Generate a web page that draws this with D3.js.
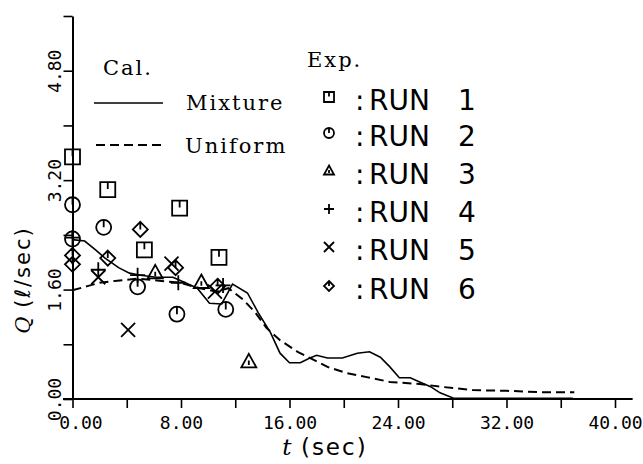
<!DOCTYPE html>
<html>
<head>
<meta charset="utf-8">
<script src="https://cdn.jsdelivr.net/npm/d3@7"></script>
<style>
  body { margin: 0; background: #fff; }
  svg { display: block; }
</style>
</head>
<body>
<div id="graph-container"></div>
<script>
// calculated curves
const tMixture = [0, 0.9, 1.7, 2.4, 3.4, 4.2, 5.0, 6.2, 7.4, 8.2, 9.2, 10.1, 11.0, 11.8, 12.9, 13.7, 14.6, 15.3, 16.0, 16.8, 17.5, 18.0, 18.8, 19.9, 21.0, 21.9, 22.7, 23.4, 24.1, 24.9, 25.6, 26.4, 27.1, 28.1, 36.9];
const qMixture = [2.33, 2.31, 2.18, 2.06, 1.92, 1.84, 1.81, 1.78, 1.78, 1.71, 1.62, 1.40, 1.39, 1.68, 1.55, 1.26, 0.97, 0.67, 0.53, 0.53, 0.60, 0.64, 0.60, 0.60, 0.67, 0.69, 0.61, 0.47, 0.31, 0.31, 0.25, 0.18, 0.09, 0.01, 0.01];

const tUniform = [0, 1.1, 2.0, 3.3, 4.8, 6.4, 7.9, 9.4, 10.6, 11.5, 12.6, 13.5, 14.3, 15.3, 16.6, 17.5, 18.8, 20.2, 21.7, 23.4, 25.6, 27.1, 29.5, 32.0, 34.5, 37.0];
const qUniform = [1.59, 1.65, 1.70, 1.73, 1.76, 1.73, 1.70, 1.62, 1.57, 1.62, 1.45, 1.26, 1.04, 0.86, 0.69, 0.60, 0.47, 0.38, 0.32, 0.25, 0.22, 0.18, 0.13, 0.12, 0.10, 0.10];

// experiments
const tRun1 = [0, 2.6, 5.3, 7.9, 10.8];
const qRun1 = [3.54, 3.06, 2.18, 2.79, 2.07];
const tRun2 = [0, 0, 2.3, 4.8, 7.7, 11.3];
const qRun2 = [2.84, 2.34, 2.51, 1.64, 1.24, 1.31];
const tRun3 = [6.1, 9.5, 13.0];
const qRun3 = [1.84, 1.70, 0.54];
const tRun4 = [0, 1.9, 4.8, 7.8, 11.1];
const qRun4 = [2.36, 1.89, 1.81, 1.70, 1.66];
const tRun5 = [1.9, 4.1, 7.3, 10.5];
const qRun5 = [1.78, 1.01, 1.98, 1.57];
const tRun6 = [0, 0, 2.6, 5.0, 7.6, 10.7];
const qRun6 = [2.10, 1.97, 2.06, 2.48, 1.92, 1.65];

const runNames = ["1", "2", "3", "4", "5", "6"];
const runShapes = ["square", "circle", "triangle", "plus", "cross", "diamond"];

const xTicks = [0, 4, 8, 12, 16, 20, 24, 28, 32, 36, 40];
const yTicks = [0, 0.8, 1.6, 2.4, 3.2, 4.0, 4.8, 5.6];

const svgWidth = 643;
const svgHeight = 464;

const svg = d3
  .select("#graph-container")
  .append("svg")
  .attr("width", svgWidth)
  .attr("height", svgHeight);

const xScale = d3.scaleLinear().domain([0, 40]).range([72.5, 615]);
const yScale = d3.scaleLinear().domain([0, 5.6]).range([399, 16]);

// plotter style symbol, s = half size
const markerPath = (shape, s) => {
  const p = d3.path();
  if (shape === "square") {
    p.rect(-s, -s, 2 * s, 2 * s);
    p.moveTo(0, -s);
    p.lineTo(0, -s * 0.1);
  } else if (shape === "circle") {
    p.moveTo(s, 0);
    p.arc(0, 0, s, 0, Math.PI * 2);
    p.moveTo(0, -s);
    p.lineTo(0, 0);
  } else if (shape === "triangle") {
    p.moveTo(0, -s * 1.1);
    p.lineTo(s, s * 0.7);
    p.lineTo(-s, s * 0.7);
    p.closePath();
    p.moveTo(0, -s * 0.2);
    p.lineTo(0, s * 0.4);
  } else if (shape === "plus") {
    p.moveTo(-s, 0);
    p.lineTo(s, 0);
    p.moveTo(0, -s);
    p.lineTo(0, s);
  } else if (shape === "cross") {
    p.moveTo(-s, -s);
    p.lineTo(s, s);
    p.moveTo(s, -s);
    p.lineTo(-s, s);
  } else if (shape === "diamond") {
    p.moveTo(0, -s);
    p.lineTo(s, 0);
    p.lineTo(0, s);
    p.lineTo(-s, 0);
    p.closePath();
    p.moveTo(0, -s);
    p.lineTo(0, 0);
  }
  return p.toString();
};

// axes
const xAxis = svg
  .append("g")
  .attr("transform", "translate(0," + yScale(0) + ")")
  .call(
    d3
      .axisBottom(xScale)
      .tickValues(xTicks)
      .tickSize(9)
      .tickPadding(8)
      .tickFormat((d) => (d % 8 === 0 ? d.toFixed(2) : ""))
  );
xAxis.select(".domain").remove();
xAxis
  .selectAll("text")
  .attr("font-family", "DejaVu Sans Mono")
  .attr("font-size", 18)
  .attr("fill", "#000")
  .attr("dx", (d) => (d === 0 ? 8 : 0));

svg
  .append("line")
  .attr("x1", xScale(-0.7))
  .attr("x2", xScale(41.3))
  .attr("y1", yScale(0))
  .attr("y2", yScale(0))
  .attr("stroke", "#000")
  .attr("stroke-width", 2);

const yAxis = svg
  .append("g")
  .attr("transform", "translate(" + xScale(0) + ",0)")
  .call(
    d3
      .axisLeft(yScale)
      .tickValues(yTicks)
      .tickSize(9)
      .tickSizeOuter(0)
      .tickFormat((d) => ([0, 1.6, 3.2, 4.8].includes(d) ? d.toFixed(2) : ""))
  );
yAxis.select(".domain").attr("stroke-width", 2);
yAxis
  .selectAll("text")
  .attr("font-family", "DejaVu Sans Mono")
  .attr("font-size", 18)
  .attr("fill", "#000")
  .attr("transform", "rotate(-90)")
  .attr("text-anchor", "middle")
  .attr("x", 0)
  .attr("y", -12)
  .attr("dy", 0);
svg.selectAll(".tick line").attr("stroke-width", 1.6);

// axis titles
const yTitle = svg
  .append("text")
  .attr("transform", "translate(30,280) rotate(-90)")
  .attr("text-anchor", "middle")
  .attr("font-family", "DejaVu Sans")
  .attr("font-size", 21);
yTitle
  .append("tspan")
  .attr("font-family", "DejaVu Serif")
  .attr("font-style", "italic")
  .text("Q");
yTitle.append("tspan").attr("letter-spacing", 2).text("  (ℓ/sec)");

const xTitle = svg
  .append("text")
  .attr("x", 325)
  .attr("y", 455)
  .attr("text-anchor", "middle")
  .attr("font-family", "DejaVu Sans")
  .attr("font-size", 23);
xTitle
  .append("tspan")
  .attr("font-family", "DejaVu Serif")
  .attr("font-style", "italic")
  .text("t");
xTitle.append("tspan").attr("letter-spacing", 2).text("  (sec)");

// calculated curves
const mixture = tMixture.map((t, i) => ({ t, q: qMixture[i] }));
const uniform = tUniform.map((t, i) => ({ t, q: qUniform[i] }));

const line = d3
  .line()
  .x((d) => xScale(d.t))
  .y((d) => yScale(d.q));

svg
  .append("path")
  .datum(uniform)
  .attr("d", line)
  .attr("fill", "none")
  .attr("stroke", "#000")
  .attr("stroke-width", 2)
  .attr("stroke-dasharray", "9,5");

svg
  .append("path")
  .datum(mixture)
  .attr("d", line)
  .attr("fill", "none")
  .attr("stroke", "#000")
  .attr("stroke-width", 1.6);

// experiment markers
const runs = [
  [tRun1, qRun1],
  [tRun2, qRun2],
  [tRun3, qRun3],
  [tRun4, qRun4],
  [tRun5, qRun5],
  [tRun6, qRun6],
];

runs.forEach(([ts, qs], i) => {
  const pts = ts.map((t, j) => ({ t, q: qs[j] }));
  const size = runShapes[i] === "cross" ? 7 : 7.5;
  svg
    .selectAll("path.run" + i)
    .data(pts)
    .enter()
    .append("path")
    .attr("class", "run" + i)
    .attr("transform", (d) => "translate(" + xScale(d.t) + "," + yScale(d.q) + ")")
    .attr("d", markerPath(runShapes[i], size))
    .attr("fill", "none")
    .attr("stroke", "#000")
    .attr("stroke-width", 1.8);
});

// legend: calculated
const serifText = (x, y, txt) =>
  svg
    .append("text")
    .attr("x", x)
    .attr("y", y)
    .attr("font-family", "DejaVu Serif")
    .attr("font-size", 21)
    .attr("letter-spacing", 2)
    .attr("fill", "#000")
    .text(txt);

serifText(103, 75, "Cal.");
serifText(186, 110, "Mixture");
serifText(185, 153, "Uniform");
serifText(307, 67, "Exp.");

svg
  .append("line")
  .attr("x1", 94)
  .attr("x2", 163)
  .attr("y1", 103)
  .attr("y2", 103)
  .attr("stroke", "#000")
  .attr("stroke-width", 1.6);

svg
  .append("line")
  .attr("x1", 96)
  .attr("x2", 164)
  .attr("y1", 145)
  .attr("y2", 145)
  .attr("stroke", "#000")
  .attr("stroke-width", 2)
  .attr("stroke-dasharray", "9,5");

// legend: experiments
const rowY = [100, 136, 174, 212, 250, 289];
runNames.forEach((name, i) => {
  svg
    .append("path")
    .attr("transform", "translate(329," + (rowY[i] - 3) + ")")
    .attr("d", markerPath(runShapes[i], 5))
    .attr("fill", "none")
    .attr("stroke", "#000")
    .attr("stroke-width", 1.8);
  const g = svg.append("g").attr("font-family", "DejaVu Sans").attr("font-size", 28);
  g.append("text").attr("x", 355).attr("y", rowY[i] + 10).text(":");
  g.append("text").attr("x", 369).attr("y", rowY[i] + 10).text("RUN");
  g.append("text").attr("x", 458).attr("y", rowY[i] + 10).text(name);
});
</script>
</body>
</html>
